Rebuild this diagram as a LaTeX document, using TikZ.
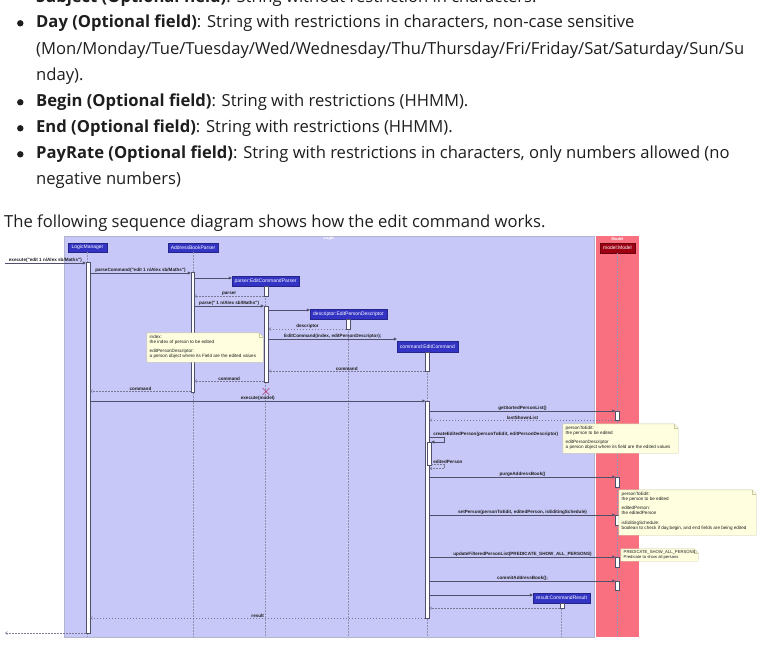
\documentclass[tikz,border=0pt]{standalone}
\usepackage{fontspec}
\setmainfont{Open Sans}
\newfontfamily\dg{Liberation Sans}
\usetikzlibrary{arrows.meta,shapes.misc,fit}
\definecolor{logicfill}{HTML}{C8C8F8}
\definecolor{logicedge}{HTML}{B4B4D0}
\definecolor{modelfill}{HTML}{F97181}
\definecolor{headblue}{HTML}{3333C4}
\definecolor{headred}{HTML}{9D0012}
\definecolor{notefill}{HTML}{FFFFE0}
\definecolor{noteedge}{HTML}{C8C8A0}
\definecolor{msgcol}{HTML}{50506A}
\definecolor{retcol}{HTML}{7A7A96}
\definecolor{lifecol}{HTML}{9090B0}
\definecolor{txt}{HTML}{1E1E1E}
\definecolor{destroy}{HTML}{B0306A}
\begin{document}
\begin{tikzpicture}[x=1pt,y=-1pt,
  body/.style={anchor=base west,inner sep=0pt,text=txt,font=\fontsize{16.6}{19}\selectfont},
  bul/.style={circle,fill=txt,inner sep=0pt,minimum size=6.4pt},
  head/.style={fill=headblue,draw=headblue!70!black,line width=0.3pt,text=white,inner sep=0pt,font=\dg\fontsize{5}{6}\selectfont},
  act/.style={fill=white,draw=msgcol,line width=0.5pt,inner sep=0pt},
  life/.style={draw=lifecol,dash pattern=on 1.5pt off 1.5pt,line width=0.45pt},
  msg/.style={draw=msgcol,line width=0.5pt,-{Triangle[length=3pt,width=3pt]}},
  ret/.style={draw=retcol,line width=0.45pt,dash pattern=on 1.5pt off 1.5pt,-{Straight Barb[length=2pt,width=3pt]}},
  lbl/.style={inner sep=0.6pt,text=txt,font=\dg\bfseries\fontsize{4.6}{5}\selectfont},
  notetxt/.style={anchor=north west,inner sep=0pt,align=left,text=txt,font=\dg\fontsize{4.6}{4.85}\selectfont},
  notebox/.style={inner sep=0pt},
  boxlbl/.style={inner sep=0pt,text=white,font=\dg\bfseries\fontsize{4}{4}\selectfont}
]
\useasboundingbox (0,0) rectangle (781,660);
\clip (0,0) rectangle (781,660);
\fill[white] (0,0) rectangle (781,660);

% ---------- body text ----------
\node[body] (t0) at (36,2.5) {\textbf{Subject (Optional field)}: String without restriction in characters.};
\node[bul] (b1) at (20.3,23.3) {};
\node[body] (t1) at (36,28) {\textbf{Day (Optional field)}: String with restrictions in characters, non-case sensitive};
\node[body] (t2) at (36,54.5) {(Mon/Monday/Tue/Tuesday/Wed/Wednesday/Thu/Thursday/Fri/Friday/Sat/Saturday/Sun/Su};
\node[body] (t3) at (36,81) {nday).};
\node[bul] (b2) at (20.3,102.3) {};
\node[body] (t4) at (36,107) {\textbf{Begin (Optional field)}: String with restrictions (HHMM).};
\node[bul] (b3) at (20.3,128.3) {};
\node[body] (t5) at (36,133) {\textbf{End (Optional field)}: String with restrictions (HHMM).};
\node[bul] (b4) at (20.3,154.3) {};
\node[body] (t6) at (36,159) {\textbf{PayRate (Optional field)}: String with restrictions in characters, only numbers allowed (no};
\node[body] (t7) at (36,185) {negative numbers)};
\node[body] (t8) at (4,228) {The following sequence diagram shows how the edit command works.};

% ---------- boxes ----------
\fill[logicfill] (64,236) rectangle (594,637);
\draw[logicedge,line width=0.6pt] (64,236) rectangle (594,637);
\fill[modelfill] (596,236) rectangle (639,637);
\node[boxlbl] (logiclbl) at (329,238.6) {Logic};
\node[boxlbl] (modellbl) at (617.5,238.6) {Model};

% ---------- participants ----------
\node[head,minimum width=39pt,minimum height=9pt] (lm) at (87.5,247.5) {LogicManager};
\node[head,minimum width=50pt,minimum height=9pt] (abp) at (193,247.5) {AddressBookParser};
\node[head,minimum width=67pt,minimum height=10pt] (ecp) at (265.5,281) {parser:EditCommandParser};
\node[head,minimum width=77pt,minimum height=10pt] (epd) at (348.5,314) {descriptor:EditPersonDescriptor};
\node[head,minimum width=61pt,minimum height=11pt] (ec) at (427.5,346.5) {command:EditCommand};
\node[head,fill=headred,draw=headred!70!black,minimum width=35pt,minimum height=10pt] (mdl) at (617.5,248) {model:Model};
\node[head,minimum width=57pt,minimum height=10pt] (cr) at (561.5,598) {result:CommandResult};

% ---------- lifelines ----------
\draw[life] (lm.south) -- (lm.south |- 0,637);
\draw[life] (abp.south) -- (abp.south |- 0,637);
\draw[life] (ecp.south) -- (ecp.south |- 0,637);
\draw[life] (epd.south) -- (epd.south |- 0,637);
\draw[life] (ec.south) -- (ec.south |- 0,637);
\draw[life] (mdl.south) -- (mdl.south |- 0,637);
\draw[life] (cr.south) -- (cr.south |- 0,637);

% ---------- activation bars ----------
\node[act,fit={(86,262)(90,633)}] (lmA) {};
\node[act,fit={(191,272)(194.3,392)}] (abpA) {};
\node[act,fit={(264,286)(268.5,296)}] (ecp1) {};
\node[act,fit={(264,306)(268.5,382)}] (ecp2) {};
\node[act,fit={(346.5,319)(350,329)}] (epd1) {};
\node[act,fit={(425,352)(429.5,371)}] (ec1) {};
\node[act,fit={(425.5,401)(429.5,618)}] (ec2) {};
\node[act,fit={(427.3,442)(431,465)}] (ecN) {};
\node[act,fit={(615.5,411)(619,420)}] (m1) {};
\node[act,fit={(615.5,477)(619,487)}] (m2) {};
\node[act,fit={(615.5,515)(619,525)}] (m3) {};
\node[act,fit={(615.5,557)(619,567)}] (m4) {};
\node[act,fit={(615.5,581)(619,590)}] (m5) {};
\node[act,fit={(560,603)(564,608)}] (crA) {};

% ---------- messages ----------
\coordinate (ext1) at (5,263);
\coordinate (ext2) at (5,633);
\draw[msg] (ext1) -- (lmA.west |- ext1) node[lbl,midway,above] {execute("edit 1 n/Alex sb/Maths")};
\draw[msg] (lmA.east |- 0,273) -- (abpA.west |- 0,273) node[lbl,midway,above] {parseCommand("edit 1 n/Alex sb/Maths")};
\draw[msg] (abpA.east |- 0,278) -- (ecp.west |- 0,278);
\draw[ret] (ecp1.west |- 0,296) -- (abpA.east |- 0,296) node[lbl,midway,above] {parser};
\draw[msg] (abpA.east |- 0,306) -- (ecp2.west |- 0,306) node[lbl,midway,above] {parse(" 1 n/Alex sb/Maths")};
\draw[msg] (ecp2.east |- 0,310) -- (epd.west |- 0,310);
\draw[ret] (epd1.west |- 0,329) -- (ecp2.east |- 0,329) node[lbl,midway,above] {descriptor};
\draw[msg] (ecp2.east |- 0,339) -- (ec.west |- 0,339) node[lbl,midway,above] {EditCommand(index, editPersonDescriptor);};
\draw[ret] (ec1.west |- 0,371) -- (ecp2.east |- 0,371) node[lbl,midway,above] {command};
\draw[ret] (ecp2.west |- 0,381) -- (abpA.east |- 0,381) node[lbl,midway,above] {command};
\draw[ret] (abpA.west |- 0,391) -- (lmA.east |- 0,391) node[lbl,midway,above] {command};
\node[cross out,draw=destroy,line width=0.6pt,minimum size=6pt,inner sep=0pt] (xd) at (266,391.5) {};
\draw[msg] (lmA.east |- 0,401) -- (ec2.west |- 0,401) node[lbl,midway,above] {execute(model)};
\draw[msg] (ec2.east |- 0,411) -- (m1.west |- 0,411) node[lbl,midway,above] {getSortedPersonList()};
\draw[ret] (m1.west |- 0,420) -- (ec2.east |- 0,420) node[lbl,midway,above] {lastShownList};
\draw[msg] (ec2.east |- 0,437.5) -- (444.5,437.5) |- (ecN.east |- 0,442);
\node[lbl,anchor=south west] (cepl) at (432.5,437) {createEditedPerson(personToEdit, editPersonDescriptor)};
\draw[ret] (ecN.east |- 0,464.5) -- (444.5,464.5) |- (ec2.east |- 0,468.5);
\node[lbl,anchor=south west] (epl) at (432.5,464) {editedPerson};
\draw[msg] (ec2.east |- 0,477) -- (m2.west |- 0,477) node[lbl,midway,above] {purgeAddressBook()};
\draw[msg] (ec2.east |- 0,515) -- (m3.west |- 0,515) node[lbl,midway,above] {setPerson(personToEdit, editedPerson, isEditingSchedule)};
\draw[msg] (ec2.east |- 0,557) -- (m4.west |- 0,557) node[lbl,midway,above] {updateFilteredPersonList(PREDICATE\_SHOW\_ALL\_PERSONS)};
\draw[msg] (ec2.east |- 0,581) -- (m5.west |- 0,581) node[lbl,midway,above] {commitAddressBook();};
\draw[msg] (ec2.east |- 0,595) -- (cr.west |- 0,595);
\draw[ret] (crA.west |- 0,608) -- (ec2.east |- 0,608);
\draw[ret] (ec2.west |- 0,618) -- (lmA.east |- 0,618) node[lbl,midway,above] {result};
\draw[ret] (lmA.west |- ext2) -- (ext2);

% ---------- notes ----------
\newcommand{\notepoly}[1]{%
  \filldraw[fill=notefill,draw=noteedge,line width=0.4pt]
    (#1.north west) -- ([xshift=-4pt]#1.north east) -- ([yshift=-4pt]#1.north east) -- (#1.south east) -- (#1.south west) -- cycle;
  \draw[noteedge,line width=0.4pt] ([xshift=-4pt]#1.north east) |- ([yshift=-4pt]#1.north east);}
\node[notebox,fit={(147,333)(263,362)}] (n0) {};
\notepoly{n0}
\node[notetxt] (n0t) at (149.5,334.8) {index:\\the index of person to be edited\\[4.85pt]editPersonDescriptor:\\a person object where its Field are the edited values};
\node[notebox,fit={(563,424)(678,453)}] (n1) {};
\notepoly{n1}
\node[notetxt] (n1t) at (565.5,425.8) {personToEdit:\\the person to be edited\\[4.85pt]editPersonDescriptor\\a person object where its field are the edited values};
\node[notebox,fit={(619,490)(756,535)}] (n2) {};
\notepoly{n2}
\node[notetxt] (n2t) at (621.5,491.8) {personToEdit:\\the person to be edited\\[4.85pt]editedPerson:\\the editedPerson\\[4.85pt]isEditingSchedule:\\boolean to check if day,begin, and end fields are being edited};
\node[notebox,fit={(621,549)(698,561)}] (n3) {};
\notepoly{n3}
\node[notetxt,font=\dg\fontsize{4.2}{4.85}\selectfont] (n3t) at (623.5,550.5) {PREDICATE\_SHOW\_ALL\_PERSONS:\\Predicate to show all persons};
\end{tikzpicture}
\end{document}
